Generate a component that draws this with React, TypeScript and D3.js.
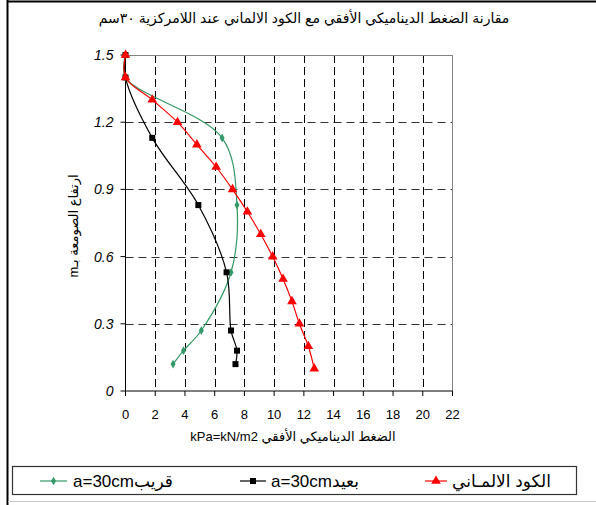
import React from 'react';
import * as d3 from 'd3';

// German code (red triangles)
const germanX = [0, 0, 1.8, 3.5, 4.8, 6.1, 7.2, 8.2, 9.1, 9.9, 10.6, 11.2, 11.7, 12.3, 12.7];
const germanY = [1.5, 1.4, 1.3, 1.2, 1.1, 1.0, 0.9, 0.8, 0.7, 0.6, 0.5, 0.4, 0.3, 0.2, 0.1];
// far, a=30cm (black squares)
const farX = [0, 0, 1.8, 4.9, 6.8, 7.1, 7.5, 7.4];
const farY = [1.5, 1.4, 1.13, 0.83, 0.53, 0.27, 0.18, 0.12];
// near, a=30cm (green diamonds)
const nearX = [0, 0, 6.5, 7.5, 7.1, 5.1, 3.9, 3.2];
const nearY = [1.5, 1.4, 1.13, 0.83, 0.53, 0.27, 0.18, 0.12];

const xTicks = [0, 2, 4, 6, 8, 10, 12, 14, 16, 18, 20, 22];
const yTicks = [0, 0.3, 0.6, 0.9, 1.2, 1.5];
const yTickLabels = ['0', '0.3', '0.6', '0.9', '1.2', '1.5'];

const title = 'مقارنة الضغط الديناميكي الأفقي مع الكود الالماني عند اللامركزية ٣٠سم';
const xTitle = 'الضغط الديناميكي الأفقي kPa=kN/m2';
const yTitle = 'ارتفاع الصومعة بـm';
const legendNames = ['قريبa=30cm', 'بعيدa=30cm', 'الكود الالمـاني'];

const font = "'Liberation Sans', Arial, 'DejaVu Sans', sans-serif";
const green = '#339966';

export default function App() {
  const width = 596;
  const height = 505;

  const x = d3.scaleLinear().domain([0, 22]).range([125.5, 452.5]);
  const y = d3.scaleLinear().domain([0, 1.5]).range([391, 55]);

  const line = d3
    .line<[number, number]>()
    .x(d => x(d[0]))
    .y(d => y(d[1]))
    .curve(d3.curveCatmullRom.alpha(0.5));

  const pts = (xs: number[], ys: number[]) => xs.map((v, i) => [v, ys[i]] as [number, number]);

  const tri = d3.symbol().type(d3.symbolTriangle).size(40)() as string;
  const sq = d3.symbol().type(d3.symbolSquare).size(36)() as string;
  const dia = d3.symbol().type(d3.symbolDiamond).size(22)() as string;

  const series = [
    { data: pts(nearX, nearY), color: green, mark: dia },
    { data: pts(farX, farY), color: '#000', mark: sq },
    { data: pts(germanX, germanY), color: '#ff0000', mark: tri },
  ];

  // legend: marker line span and left edge of the label
  const legendPos = [
    { x1: 40, x2: 67, tx: 73 },
    { x1: 240, x2: 266, tx: 271 },
    { x1: 425, x2: 447, tx: 452 },
  ];
  const legY = 481;

  return (
    <svg
      width={width}
      height={height}
      style={{ position: 'absolute', left: 0, top: 0, background: '#fff', fontFamily: font }}
    >
      {/* outer frame */}
      <line x1={7.5} x2={7.5} y1={0} y2={height} stroke="#000" strokeWidth={2} />
      <line x1={7} x2={width} y1={1.5} y2={1.5} stroke="#000" strokeWidth={2} />
      <line x1={8} x2={width} y1={501.5} y2={501.5} stroke="#c8c8c8" strokeWidth={1} />

      <text x={304} y={23} textAnchor="middle" fontSize={14} direction="rtl">
        {title}
      </text>

      {/* grid */}
      {yTicks.slice(1, -1).map(t => (
        <line key={'h' + t} x1={x(0)} x2={x(22)} y1={Math.round(y(t)) + 0.5} y2={Math.round(y(t)) + 0.5}
          stroke="#333" strokeDasharray="8 5" />
      ))}
      {xTicks.slice(1, -1).map(t => (
        <line key={'v' + t} x1={Math.round(x(t)) + 0.5} x2={Math.round(x(t)) + 0.5} y1={y(1.5)} y2={y(0)}
          stroke="#000" strokeDasharray="8 4" />
      ))}
      {/* plot frame top and right */}
      <line x1={x(0)} x2={x(22)} y1={y(1.5) + 0.5} y2={y(1.5) + 0.5} stroke="#808080" />
      <line x1={x(22)} x2={x(22)} y1={y(1.5)} y2={y(0)} stroke="#808080" />

      {/* axes */}
      <line x1={x(0)} x2={x(0)} y1={y(1.5)} y2={y(0)} stroke="#000" />
      <line x1={x(0)} x2={x(22)} y1={y(0)} y2={y(0)} stroke="#000" />
      {yTicks.map((t, i) => (
        <g key={'yt' + t}>
          <line x1={x(0) - 5} x2={x(0)} y1={y(t)} y2={y(t)} stroke="#000" />
          <text x={x(0) - 12} y={y(t) + 5} textAnchor="end" fontSize={14} fontStyle="italic">
            {yTickLabels[i]}
          </text>
        </g>
      ))}
      {xTicks.map(t => (
        <g key={'xt' + t}>
          <line x1={x(t)} x2={x(t)} y1={y(0)} y2={y(0) + 5} stroke="#000" />
          <text x={x(t)} y={419} textAnchor="middle" fontSize={13}>
            {t}
          </text>
        </g>
      ))}

      <text x={293} y={441} textAnchor="middle" fontSize={13} direction="rtl">
        {xTitle}
      </text>
      <text transform="translate(78,226) rotate(-90)" textAnchor="middle" fontSize={13} direction="rtl">
        {yTitle}
      </text>

      {/* series */}
      {series.map((s, i) => (
        <g key={'s' + i}>
          <path d={line(s.data) as string} fill="none" stroke={s.color} strokeWidth={1.2} />
          {s.data.map((d, j) => (
            <path key={j} d={s.mark} transform={`translate(${x(d[0])},${y(d[1])})`} fill={s.color} />
          ))}
        </g>
      ))}

      {/* legend */}
      <rect x={12.5} y={466.5} width={564} height={28} fill="none" stroke="#333" strokeWidth={1.2} />
      {series.map((s, i) => (
        <g key={'l' + i}>
          <line x1={legendPos[i].x1} x2={legendPos[i].x2} y1={legY} y2={legY} stroke={s.color} strokeWidth={1.2} />
          <path d={s.mark} transform={`translate(${(legendPos[i].x1 + legendPos[i].x2) / 2},${legY})`} fill={s.color} />
          <text x={legendPos[i].tx} y={legY + 6} fontSize={17} direction="rtl" textAnchor="end">
            {legendNames[i]}
          </text>
        </g>
      ))}
    </svg>
  );
}
